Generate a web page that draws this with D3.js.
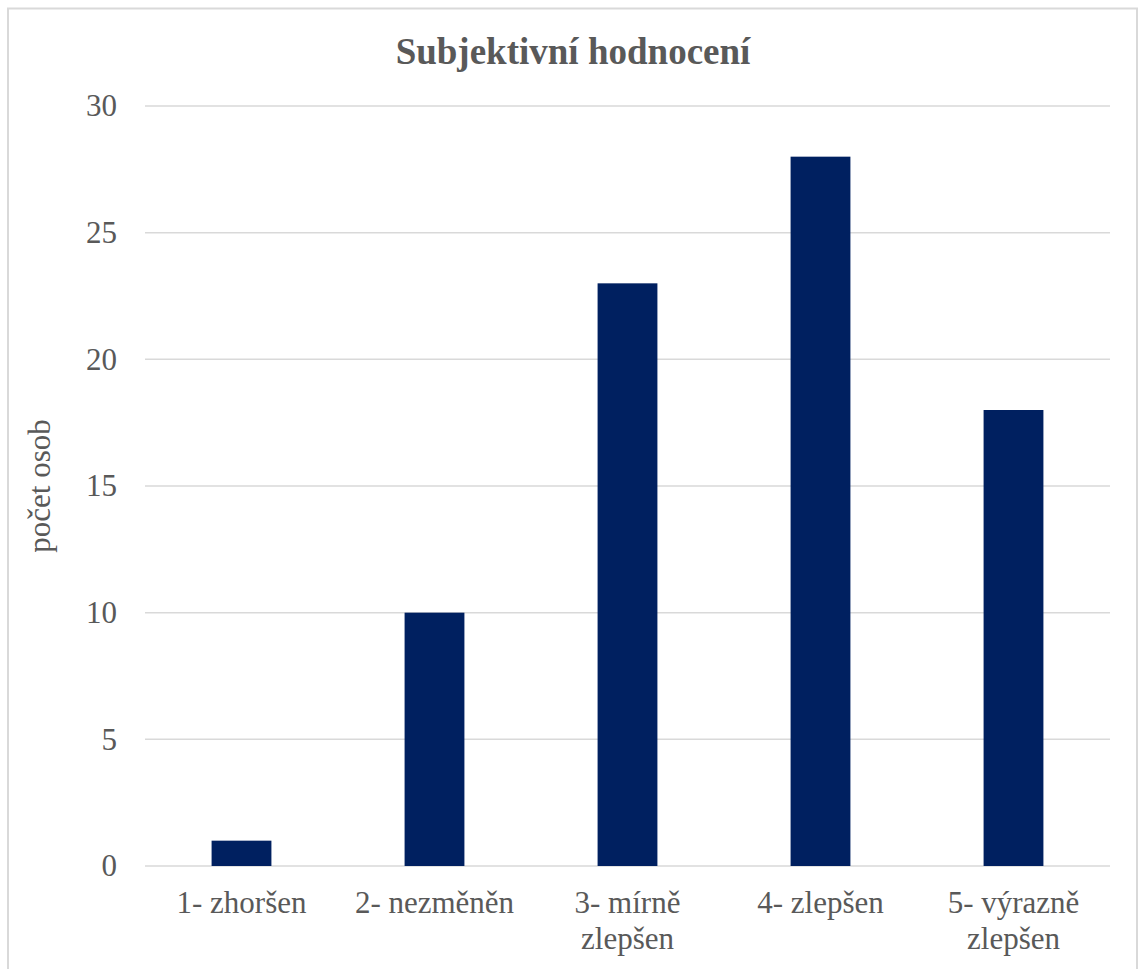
<!DOCTYPE html>
<html>
<head>
<meta charset="utf-8">
<script src="https://cdn.jsdelivr.net/npm/d3@7"></script>
<style>
body{margin:0;background:#fff;}
svg{display:block;}
</style>
</head>
<body>
<svg id="chart" width="1138" height="969"></svg>
<script>
const categories = [["1- zhoršen"], ["2- nezměněn"], ["3- mírně", "zlepšen"], ["4- zlepšen"], ["5- výrazně", "zlepšen"]];
const values = [1, 10, 23, 28, 18];
const yTicks = [0, 5, 10, 15, 20, 25, 30];
const title = "Subjektivní hodnocení";
const yTitle = "počet osob";

const FONT = "'Liberation Serif', 'Times New Roman', Tinos, 'DejaVu Serif', serif";
const svg = d3.select("#chart").style("font-family", FONT);
const W = 1138, H = 969;
const m = {left: 145, right: 28, top: 106, bottom: 103};

svg.append("rect").attr("x", 8).attr("y", 8.5).attr("width", 1129).attr("height", 1000)
  .attr("fill", "#fff").attr("stroke", "#d9d9d9").attr("stroke-width", 2);

const x = d3.scaleBand().domain(d3.range(categories.length))
  .range([m.left, W - m.right]).paddingInner(0.69).paddingOuter(0.345);
const y = d3.scaleLinear().domain([0, 30]).range([H - m.bottom, m.top]);

svg.append("g").selectAll("line").data(yTicks).join("line")
  .attr("x1", m.left).attr("x2", W - m.right)
  .attr("y1", d => y(d)).attr("y2", d => y(d))
  .attr("stroke", "#d9d9d9").attr("stroke-width", 1.5);

const yAxis = d3.axisLeft(y).tickValues(yTicks).tickSize(0).tickPadding(0);
const ya = svg.append("g").attr("transform", `translate(117,0)`).call(yAxis);
ya.select(".domain").remove();
ya.attr("font-family", FONT);
ya.selectAll("text").attr("font-size", 31).attr("fill", "#595959").style("font-family", FONT);

svg.append("g").selectAll("rect").data(values).join("rect")
  .attr("x", (d, i) => x(i)).attr("width", x.bandwidth())
  .attr("y", d => y(d)).attr("height", d => y(0) - y(d))
  .attr("fill", "#002060");

const xl = svg.append("g").selectAll("text").data(categories).join("text")
  .attr("x", (d, i) => x(i) + x.bandwidth() / 2)
  .attr("y", 913)
  .attr("text-anchor", "middle").attr("font-size", 31).attr("fill", "#595959")
  .style("font-family", FONT);
xl.selectAll("tspan").data(d => d).join("tspan")
  .attr("x", function() { return this.parentNode.getAttribute("x"); })
  .attr("dy", (d, i) => i === 0 ? 0 : 36)
  .text(d => d);

svg.append("text").attr("x", 573).attr("y", 64).attr("text-anchor", "middle")
  .attr("font-size", 37).attr("font-weight", "bold").attr("fill", "#595959")
  .style("font-family", FONT).text(title);

svg.append("text").attr("transform", `translate(50,${(y(0) + y(30)) / 2}) rotate(-90)`)
  .attr("text-anchor", "middle").attr("font-size", 31).attr("fill", "#595959")
  .style("font-family", FONT).text(yTitle);
</script>
</body>
</html>
